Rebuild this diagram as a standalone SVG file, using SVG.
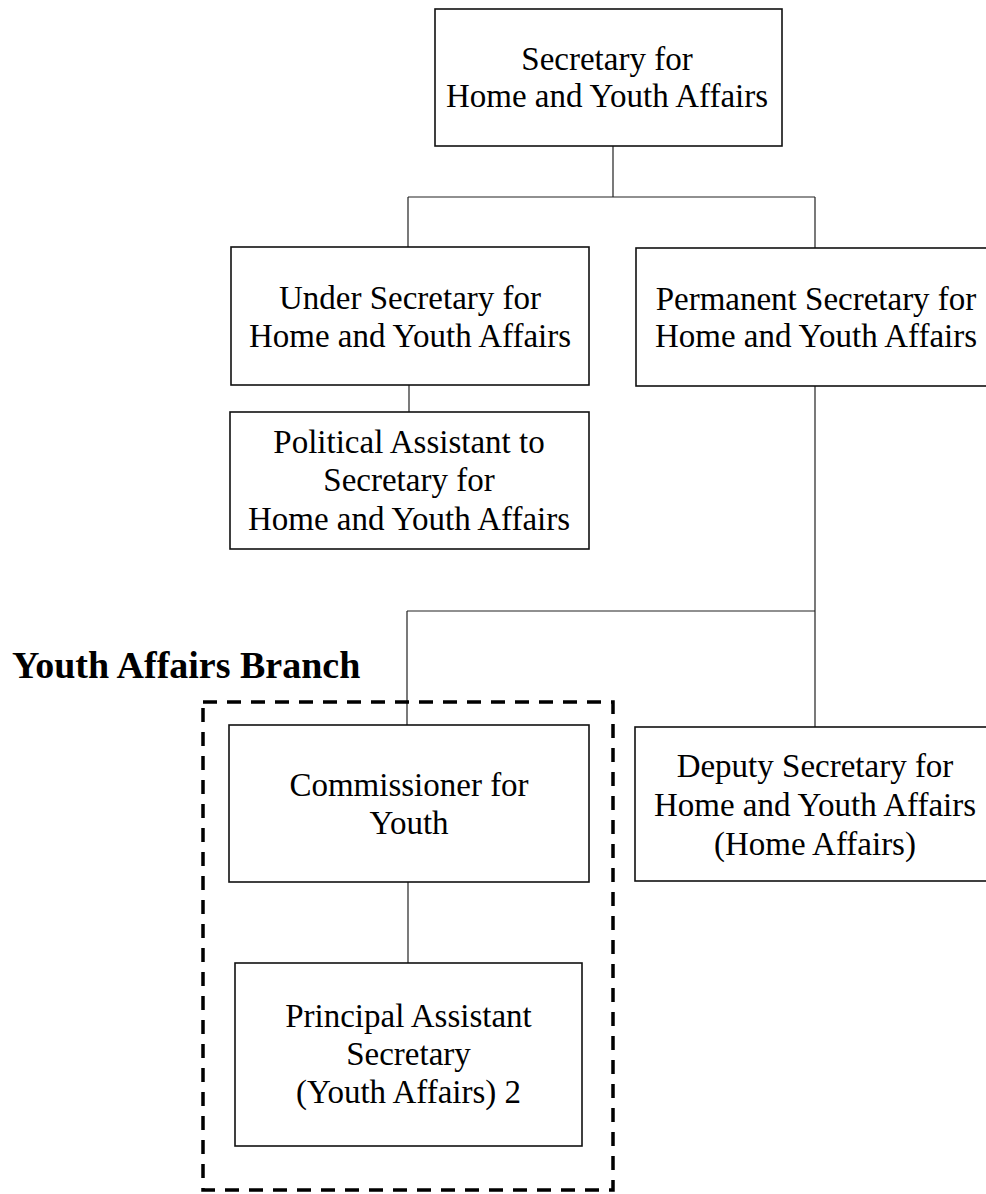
<svg xmlns="http://www.w3.org/2000/svg" width="986" height="1194" viewBox="0 0 986 1194">
<style>
.box{fill:#fff;stroke:#111;stroke-width:1.6}
.lbl{font-family:"Liberation Serif","Times New Roman",serif;font-size:33px;fill:#000;text-anchor:middle}
.conn{stroke:#222;stroke-width:1.2;fill:none}
.dash{fill:none;stroke:#000;stroke-width:3.5;stroke-dasharray:14 10}
.title{font-family:"Liberation Serif","Times New Roman",serif;font-size:38px;font-weight:bold;fill:#000}
</style>
<rect width="986" height="1194" fill="#fff"/>
<g id="connectors">
<path class="conn" d="M613 146V197M408 197H815M408 197V247M815 197V248"/>
<path class="conn" d="M409 385V412"/>
<path class="conn" d="M815 386V611M407 611H815M407 611V725M815 611V727"/>
<path class="conn" d="M408 882V963"/>
</g>
<g id="youth-affairs-branch">
<rect class="dash" x="203" y="702" width="410" height="488"/>
<text class="title" x="12" y="678">Youth Affairs Branch</text>
</g>
<g id="secretary">
<rect class="box" x="435" y="9" width="347" height="137"/>
<text class="lbl" x="607" y="70">Secretary for</text>
<text class="lbl" x="607" y="107">Home and Youth Affairs</text>
</g>
<g id="under-secretary">
<rect class="box" x="231" y="247" width="358" height="138"/>
<text class="lbl" x="410" y="309">Under Secretary for</text>
<text class="lbl" x="410" y="347">Home and Youth Affairs</text>
</g>
<g id="permanent-secretary">
<rect class="box" x="636" y="248" width="360" height="138"/>
<text class="lbl" x="816" y="310">Permanent Secretary for</text>
<text class="lbl" x="816" y="347">Home and Youth Affairs</text>
</g>
<g id="political-assistant">
<rect class="box" x="230" y="412" width="359" height="137"/>
<text class="lbl" x="409" y="453">Political Assistant to</text>
<text class="lbl" x="409" y="491">Secretary for</text>
<text class="lbl" x="409" y="530">Home and Youth Affairs</text>
</g>
<g id="commissioner-for-youth">
<rect class="box" x="229" y="725" width="360" height="157"/>
<text class="lbl" x="409" y="796">Commissioner for</text>
<text class="lbl" x="409" y="834">Youth</text>
</g>
<g id="deputy-secretary">
<rect class="box" x="635" y="727" width="361" height="154"/>
<text class="lbl" x="815" y="777">Deputy Secretary for</text>
<text class="lbl" x="815" y="816">Home and Youth Affairs</text>
<text class="lbl" x="815" y="855">(Home Affairs)</text>
</g>
<g id="principal-assistant-secretary">
<rect class="box" x="235" y="963" width="347" height="183"/>
<text class="lbl" x="408.5" y="1027">Principal Assistant</text>
<text class="lbl" x="408.5" y="1065">Secretary</text>
<text class="lbl" x="408.5" y="1103">(Youth Affairs) 2</text>
</g>
</svg>
